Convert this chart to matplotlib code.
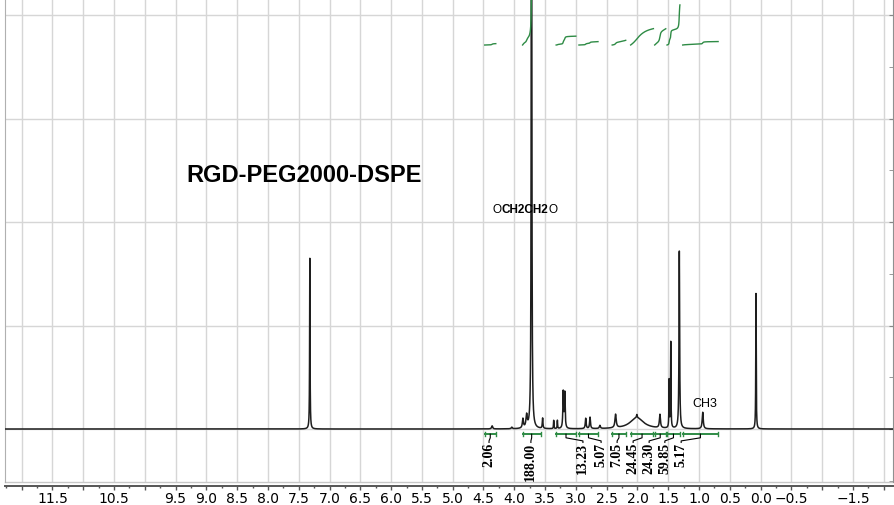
import numpy as np
import matplotlib.pyplot as plt
from matplotlib.ticker import MultipleLocator

# peaks: position (ppm), height (grid units), half width (ppm)
peak_ppm = [7.32, 4.36, 4.04, 3.86, 3.80, 3.72, 3.54, 3.36, 3.30, 3.205, 3.18,
            2.84, 2.77, 2.61, 2.355, 2.01, 2.01, 1.635, 1.485, 1.459, 1.32, 0.94, 0.075]
peak_height = [1.65, 0.03, 0.015, 0.09, 0.12, 8.0, 0.10, 0.08, 0.08, 0.35, 0.34,
               0.10, 0.11, 0.03, 0.13, 0.11, 0.03, 0.13, 0.46, 0.83, 1.72, 0.16, 1.31]
peak_width = [0.004, 0.01, 0.01, 0.01, 0.012, 0.005, 0.006, 0.004, 0.004, 0.007, 0.007,
              0.008, 0.008, 0.01, 0.012, 0.13, 0.006, 0.01, 0.004, 0.004, 0.006, 0.01, 0.004]

# integral regions (ppm), values and where their labels sit
int_start = [4.48, 3.865, 3.32, 2.95, 2.41, 2.11, 1.72, 1.52, 1.265]
int_end = [4.30, 3.57, 3.00, 2.64, 2.19, 1.74, 1.54, 1.31, 0.69]
int_value = [2.06, 188.00, 13.23, 5.07, 7.05, 24.45, 24.30, 59.85, 5.17]
int_label_ppm = [4.41, 3.73, 2.885, 2.59, 2.33, 2.07, 1.81, 1.555, 1.29]

# x axis ticks
tick_ppm = np.arange(12.0, -2.01, -0.5)
tick_labels = ['', '11.5', '', '10.5', '', '9.5', '9.0', '8.5', '8.0', '7.5', '7.0',
               '6.5', '6.0', '5.5', '5.0', '4.5', '4.0', '3.5', '3.0', '2.5', '2.0',
               '1.5', '1.0', '0.5', '0.0', '\u22120.5', '', '\u22121.5', '']

GREEN = '#2e8b45'

ppm = np.linspace(12.27, -2.15, 20000)
spec = np.zeros_like(ppm)
for p, h, w in zip(peak_ppm, peak_height, peak_width):
    spec += h * w**2 / ((ppm - p)**2 + w**2)

fig = plt.figure(figsize=(8.95, 5.05), dpi=100)
ax = fig.add_axes([5 / 895, 23 / 505, 888 / 895, 482 / 505])
ax.set_xlim(12.27, -2.15)
ax.set_ylim(-0.512, 4.145)

# grid
ax.set_xticks(tick_ppm)
ax.set_xticklabels(tick_labels, family=['Liberation Mono', 'DejaVu Sans Mono'],
                   fontsize=6.5, color='#333333')
ax.xaxis.set_minor_locator(MultipleLocator(0.25))
ax.yaxis.set_major_locator(MultipleLocator(1.0))
ax.yaxis.set_minor_locator(MultipleLocator(0.5))
ax.grid(True, which='major', color='#d6d6d6', lw=1.0)
ax.set_axisbelow(True)

ax.spines['top'].set_visible(False)
ax.spines['left'].set_color('#b0b0b0')
ax.spines['right'].set_color('#909090')
ax.spines['bottom'].set_position(('outward', 3))
ax.spines['bottom'].set_color('#555555')
ax.spines['bottom'].set_linewidth(1.4)
ax.axhline(-0.512, color='#c8c8c8', lw=1.0, clip_on=False)

ax.tick_params(axis='x', which='major', direction='out', length=3, width=1, color='#555555', pad=1.5)
ax.tick_params(axis='x', which='minor', direction='out', length=1.5, width=1, color='#555555')
ax.yaxis.set_ticks_position('right')
ax.tick_params(axis='y', which='both', direction='in', length=3, color='#888888',
               labelright=False, labelleft=False)

# spectrum
ax.plot(ppm, spec, color='#1e1e1e', lw=1.1, zorder=3)

# integrals: brackets, leaders, labels and the curves on top
base = 3.71
scale = 0.00647
for s, e, v, lp in zip(int_start, int_end, int_value, int_label_ppm):
    ax.plot([s, e], [-0.048, -0.048], color=GREEN, lw=1.4, zorder=4)
    ax.plot([s, s], [-0.03, -0.066], color=GREEN, lw=1.0, zorder=4)
    ax.plot([e, e], [-0.03, -0.066], color=GREEN, lw=1.0, zorder=4)
    c = (s + e) / 2
    ax.plot([c, c, lp, lp], [-0.05, -0.085, -0.115, -0.13], color='black', lw=0.8, zorder=4)
    ax.text(lp, -0.135, f'{v:.2f}', rotation=90, ha='center', va='top', fontsize=10,
            family=['Liberation Serif', 'DejaVu Serif'], weight='bold')

    m = (ppm <= s) & (ppm >= e)
    cum = np.cumsum(spec[m])
    ax.plot(ppm[m], base + v * scale * cum / cum[-1], color=GREEN, lw=1.0, zorder=4)

# annotations
ax.text(9.32, 2.39, 'RGD-PEG2000-DSPE', fontsize=17, weight='bold',
        family=['Liberation Sans', 'DejaVu Sans'], va='baseline', ha='left')
t1 = ax.text(4.35, 2.055, 'O', fontsize=8.5, family=['Liberation Sans', 'DejaVu Sans'],
             va='bottom', ha='left')
t2 = ax.annotate('CH2CH2', xy=(1, 0), xycoords=t1, fontsize=8.5, weight='bold',
                 family=['Liberation Sans', 'DejaVu Sans'], va='bottom', ha='left')
ax.annotate('O', xy=(1, 0), xycoords=t2, fontsize=8.5,
            family=['Liberation Sans', 'DejaVu Sans'], va='bottom', ha='left')
ax.text(1.10, 0.213, 'CH3', fontsize=9, family=['Liberation Sans', 'DejaVu Sans'],
        va='baseline', ha='left')

fig.savefig('out.png', dpi=100)
